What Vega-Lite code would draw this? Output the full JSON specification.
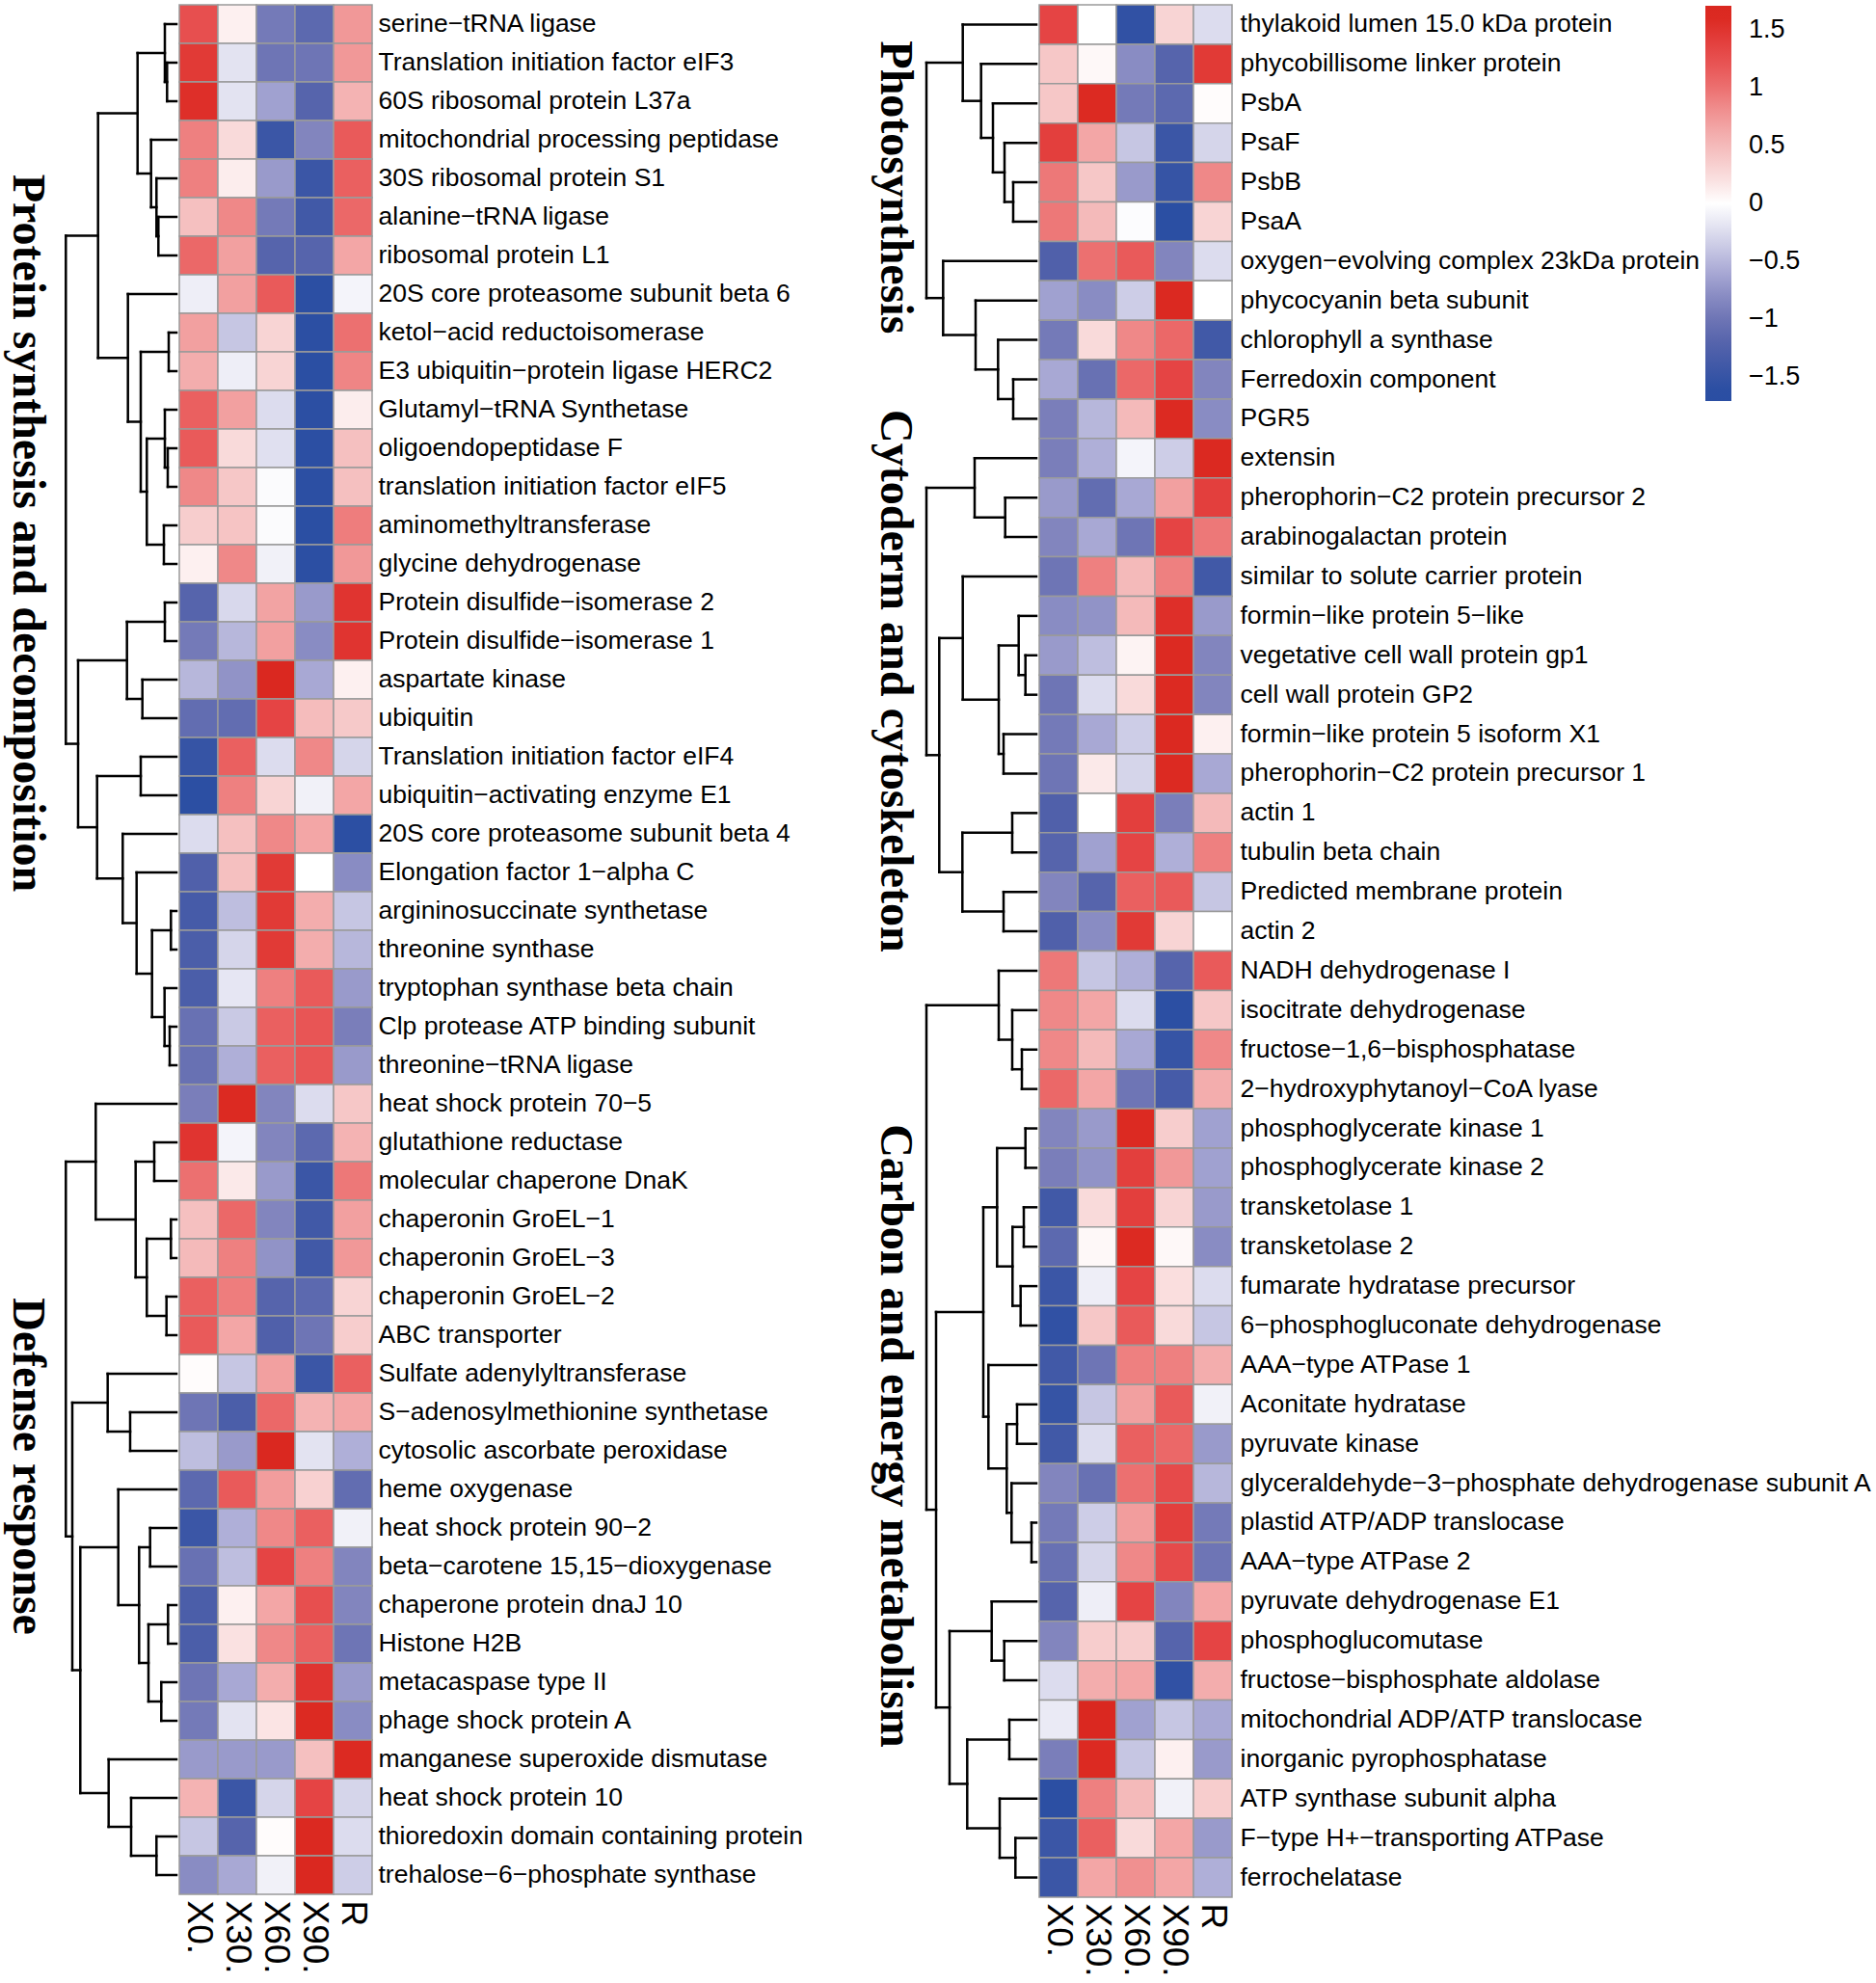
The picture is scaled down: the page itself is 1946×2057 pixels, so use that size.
{
"padding": {"left": 0, "top": 4, "right": 0, "bottom": 0},
"background": "white",
"spacing": 0,
"config": {
  "font": "Liberation Sans",
  "view": {"stroke": null},
  "axis": {"grid": false, "ticks": false, "domain": false, "labelColor": "#000000", "labelFont": "Liberation Sans", "title": null, "labelOverlap": false},
  "concat": {"spacing": 0}
},
"resolve": {"scale": {"color": "independent"}},
"datasets": {
"Lg": [
{"r":1,"g":"serine−tRNA ligase"},{"r":2,"g":"Translation initiation factor eIF3"},{"r":3,"g":"60S ribosomal protein L37a"},{"r":4,"g":"mitochondrial processing peptidase"},{"r":5,"g":"30S ribosomal protein S1"},{"r":6,"g":"alanine−tRNA ligase"},{"r":7,"g":"ribosomal protein L1"},{"r":8,"g":"20S core proteasome subunit beta 6"},{"r":9,"g":"ketol−acid reductoisomerase"},{"r":10,"g":"E3 ubiquitin−protein ligase HERC2"},{"r":11,"g":"Glutamyl−tRNA Synthetase"},{"r":12,"g":"oligoendopeptidase F"},{"r":13,"g":"translation initiation factor eIF5"},{"r":14,"g":"aminomethyltransferase"},{"r":15,"g":"glycine dehydrogenase"},{"r":16,"g":"Protein disulfide−isomerase 2"},{"r":17,"g":"Protein disulfide−isomerase 1"},{"r":18,"g":"aspartate kinase"},{"r":19,"g":"ubiquitin"},{"r":20,"g":"Translation initiation factor eIF4"},{"r":21,"g":"ubiquitin−activating enzyme E1"},{"r":22,"g":"20S core proteasome subunit beta 4"},{"r":23,"g":"Elongation factor 1−alpha C"},{"r":24,"g":"argininosuccinate synthetase"},{"r":25,"g":"threonine synthase"},{"r":26,"g":"tryptophan synthase beta chain"},{"r":27,"g":"Clp protease ATP binding subunit"},{"r":28,"g":"threonine−tRNA ligase"},{"r":29,"g":"heat shock protein 70−5"},{"r":30,"g":"glutathione reductase"},{"r":31,"g":"molecular chaperone DnaK"},{"r":32,"g":"chaperonin GroEL−1"},{"r":33,"g":"chaperonin GroEL−3"},{"r":34,"g":"chaperonin GroEL−2"},{"r":35,"g":"ABC transporter"},{"r":36,"g":"Sulfate adenylyltransferase"},{"r":37,"g":"S−adenosylmethionine synthetase"},{"r":38,"g":"cytosolic ascorbate peroxidase"},{"r":39,"g":"heme oxygenase"},{"r":40,"g":"heat shock protein 90−2"},{"r":41,"g":"beta−carotene 15,15−dioxygenase"},{"r":42,"g":"chaperone protein dnaJ 10"},{"r":43,"g":"Histone H2B"},{"r":44,"g":"metacaspase type II"},{"r":45,"g":"phage shock protein A"},{"r":46,"g":"manganese superoxide dismutase"},{"r":47,"g":"heat shock protein 10"},{"r":48,"g":"thioredoxin domain containing protein"},{"r":49,"g":"trehalose−6−phosphate synthase"}
],
"Rg": [
{"r":1,"g":"thylakoid lumen 15.0 kDa protein"},{"r":2,"g":"phycobillisome linker protein"},{"r":3,"g":"PsbA"},{"r":4,"g":"PsaF"},{"r":5,"g":"PsbB"},{"r":6,"g":"PsaA"},{"r":7,"g":"oxygen−evolving complex 23kDa protein"},{"r":8,"g":"phycocyanin beta subunit"},{"r":9,"g":"chlorophyll a synthase"},{"r":10,"g":"Ferredoxin component"},{"r":11,"g":"PGR5"},{"r":12,"g":"extensin"},{"r":13,"g":"pherophorin−C2 protein precursor 2"},{"r":14,"g":"arabinogalactan protein"},{"r":15,"g":"similar to solute carrier protein"},{"r":16,"g":"formin−like protein 5−like"},{"r":17,"g":"vegetative cell wall protein gp1"},{"r":18,"g":"cell wall protein GP2"},{"r":19,"g":"formin−like protein 5 isoform X1"},{"r":20,"g":"pherophorin−C2 protein precursor 1"},{"r":21,"g":"actin 1"},{"r":22,"g":"tubulin beta chain"},{"r":23,"g":"Predicted membrane protein"},{"r":24,"g":"actin 2"},{"r":25,"g":"NADH dehydrogenase I"},{"r":26,"g":"isocitrate dehydrogenase"},{"r":27,"g":"fructose−1,6−bisphosphatase"},{"r":28,"g":"2−hydroxyphytanoyl−CoA lyase"},{"r":29,"g":"phosphoglycerate kinase 1"},{"r":30,"g":"phosphoglycerate kinase 2"},{"r":31,"g":"transketolase 1"},{"r":32,"g":"transketolase 2"},{"r":33,"g":"fumarate hydratase precursor"},{"r":34,"g":"6−phosphogluconate dehydrogenase"},{"r":35,"g":"AAA−type ATPase 1"},{"r":36,"g":"Aconitate hydratase"},{"r":37,"g":"pyruvate kinase"},{"r":38,"g":"glyceraldehyde−3−phosphate dehydrogenase subunit A"},{"r":39,"g":"plastid ATP/ADP translocase"},{"r":40,"g":"AAA−type ATPase 2"},{"r":41,"g":"pyruvate dehydrogenase E1"},{"r":42,"g":"phosphoglucomutase"},{"r":43,"g":"fructose−bisphosphate aldolase"},{"r":44,"g":"mitochondrial ADP/ATP translocase"},{"r":45,"g":"inorganic pyrophosphatase"},{"r":46,"g":"ATP synthase subunit alpha"},{"r":47,"g":"F−type H+−transporting ATPase"},{"r":48,"g":"ferrochelatase"}
],
"Lc": [
{"r":1,"c":"X0.","z":1.25},{"r":1,"c":"X30.","z":0.1},{"r":1,"c":"X60.","z":-0.95},{"r":1,"c":"X90.","z":-1.15},{"r":1,"c":"R","z":0.75},
{"r":2,"c":"X0.","z":1.45},{"r":2,"c":"X30.","z":-0.2},{"r":2,"c":"X60.","z":-1.0},{"r":2,"c":"X90.","z":-1.0},{"r":2,"c":"R","z":0.75},
{"r":3,"c":"X0.","z":1.55},{"r":3,"c":"X30.","z":-0.2},{"r":3,"c":"X60.","z":-0.65},{"r":3,"c":"X90.","z":-1.2},{"r":3,"c":"R","z":0.55},
{"r":4,"c":"X0.","z":0.9},{"r":4,"c":"X30.","z":0.25},{"r":4,"c":"X60.","z":-1.45},{"r":4,"c":"X90.","z":-0.85},{"r":4,"c":"R","z":1.15},
{"r":5,"c":"X0.","z":0.9},{"r":5,"c":"X30.","z":0.12},{"r":5,"c":"X60.","z":-0.7},{"r":5,"c":"X90.","z":-1.45},{"r":5,"c":"R","z":1.1},
{"r":6,"c":"X0.","z":0.45},{"r":6,"c":"X30.","z":0.85},{"r":6,"c":"X60.","z":-0.95},{"r":6,"c":"X90.","z":-1.4},{"r":6,"c":"R","z":1.05},
{"r":7,"c":"X0.","z":1.05},{"r":7,"c":"X30.","z":0.7},{"r":7,"c":"X60.","z":-1.2},{"r":7,"c":"X90.","z":-1.2},{"r":7,"c":"R","z":0.65},
{"r":8,"c":"X0.","z":-0.12},{"r":8,"c":"X30.","z":0.7},{"r":8,"c":"X60.","z":1.15},{"r":8,"c":"X90.","z":-1.6},{"r":8,"c":"R","z":-0.08},
{"r":9,"c":"X0.","z":0.7},{"r":9,"c":"X30.","z":-0.4},{"r":9,"c":"X60.","z":0.3},{"r":9,"c":"X90.","z":-1.6},{"r":9,"c":"R","z":1.0},
{"r":10,"c":"X0.","z":0.6},{"r":10,"c":"X30.","z":-0.12},{"r":10,"c":"X60.","z":0.3},{"r":10,"c":"X90.","z":-1.65},{"r":10,"c":"R","z":0.87},
{"r":11,"c":"X0.","z":1.1},{"r":11,"c":"X30.","z":0.7},{"r":11,"c":"X60.","z":-0.25},{"r":11,"c":"X90.","z":-1.6},{"r":11,"c":"R","z":0.12},
{"r":12,"c":"X0.","z":1.15},{"r":12,"c":"X30.","z":0.25},{"r":12,"c":"X60.","z":-0.22},{"r":12,"c":"X90.","z":-1.6},{"r":12,"c":"R","z":0.45},
{"r":13,"c":"X0.","z":0.85},{"r":13,"c":"X30.","z":0.4},{"r":13,"c":"X60.","z":-0.03},{"r":13,"c":"X90.","z":-1.62},{"r":13,"c":"R","z":0.45},
{"r":14,"c":"X0.","z":0.35},{"r":14,"c":"X30.","z":0.42},{"r":14,"c":"X60.","z":-0.03},{"r":14,"c":"X90.","z":-1.65},{"r":14,"c":"R","z":0.92},
{"r":15,"c":"X0.","z":0.1},{"r":15,"c":"X30.","z":0.85},{"r":15,"c":"X60.","z":-0.1},{"r":15,"c":"X90.","z":-1.6},{"r":15,"c":"R","z":0.75},
{"r":16,"c":"X0.","z":-1.2},{"r":16,"c":"X30.","z":-0.28},{"r":16,"c":"X60.","z":0.68},{"r":16,"c":"X90.","z":-0.7},{"r":16,"c":"R","z":1.5},
{"r":17,"c":"X0.","z":-0.95},{"r":17,"c":"X30.","z":-0.5},{"r":17,"c":"X60.","z":0.7},{"r":17,"c":"X90.","z":-0.8},{"r":17,"c":"R","z":1.5},
{"r":18,"c":"X0.","z":-0.5},{"r":18,"c":"X30.","z":-0.75},{"r":18,"c":"X60.","z":1.7},{"r":18,"c":"X90.","z":-0.6},{"r":18,"c":"R","z":0.1},
{"r":19,"c":"X0.","z":-1.1},{"r":19,"c":"X30.","z":-1.1},{"r":19,"c":"X60.","z":1.35},{"r":19,"c":"X90.","z":0.48},{"r":19,"c":"R","z":0.38},
{"r":20,"c":"X0.","z":-1.5},{"r":20,"c":"X30.","z":1.1},{"r":20,"c":"X60.","z":-0.25},{"r":20,"c":"X90.","z":0.85},{"r":20,"c":"R","z":-0.3},
{"r":21,"c":"X0.","z":-1.6},{"r":21,"c":"X30.","z":0.9},{"r":21,"c":"X60.","z":0.3},{"r":21,"c":"X90.","z":-0.1},{"r":21,"c":"R","z":0.65},
{"r":22,"c":"X0.","z":-0.25},{"r":22,"c":"X30.","z":0.45},{"r":22,"c":"X60.","z":0.85},{"r":22,"c":"X90.","z":0.65},{"r":22,"c":"R","z":-1.6},
{"r":23,"c":"X0.","z":-1.25},{"r":23,"c":"X30.","z":0.45},{"r":23,"c":"X60.","z":1.45},{"r":23,"c":"X90.","z":0.0},{"r":23,"c":"R","z":-0.8},
{"r":24,"c":"X0.","z":-1.35},{"r":24,"c":"X30.","z":-0.45},{"r":24,"c":"X60.","z":1.45},{"r":24,"c":"X90.","z":0.6},{"r":24,"c":"R","z":-0.4},
{"r":25,"c":"X0.","z":-1.3},{"r":25,"c":"X30.","z":-0.3},{"r":25,"c":"X60.","z":1.45},{"r":25,"c":"X90.","z":0.6},{"r":25,"c":"R","z":-0.5},
{"r":26,"c":"X0.","z":-1.3},{"r":26,"c":"X30.","z":-0.18},{"r":26,"c":"X60.","z":0.9},{"r":26,"c":"X90.","z":1.15},{"r":26,"c":"R","z":-0.7},
{"r":27,"c":"X0.","z":-1.05},{"r":27,"c":"X30.","z":-0.38},{"r":27,"c":"X60.","z":1.1},{"r":27,"c":"X90.","z":1.2},{"r":27,"c":"R","z":-0.9},
{"r":28,"c":"X0.","z":-1.05},{"r":28,"c":"X30.","z":-0.55},{"r":28,"c":"X60.","z":1.1},{"r":28,"c":"X90.","z":1.2},{"r":28,"c":"R","z":-0.7},
{"r":29,"c":"X0.","z":-0.9},{"r":29,"c":"X30.","z":1.6},{"r":29,"c":"X60.","z":-0.85},{"r":29,"c":"X90.","z":-0.25},{"r":29,"c":"R","z":0.4},
{"r":30,"c":"X0.","z":1.5},{"r":30,"c":"X30.","z":-0.08},{"r":30,"c":"X60.","z":-0.85},{"r":30,"c":"X90.","z":-1.15},{"r":30,"c":"R","z":0.55},
{"r":31,"c":"X0.","z":1.0},{"r":31,"c":"X30.","z":0.15},{"r":31,"c":"X60.","z":-0.7},{"r":31,"c":"X90.","z":-1.45},{"r":31,"c":"R","z":0.95},
{"r":32,"c":"X0.","z":0.45},{"r":32,"c":"X30.","z":1.05},{"r":32,"c":"X60.","z":-0.85},{"r":32,"c":"X90.","z":-1.4},{"r":32,"c":"R","z":0.7},
{"r":33,"c":"X0.","z":0.5},{"r":33,"c":"X30.","z":0.9},{"r":33,"c":"X60.","z":-0.75},{"r":33,"c":"X90.","z":-1.4},{"r":33,"c":"R","z":0.75},
{"r":34,"c":"X0.","z":1.1},{"r":34,"c":"X30.","z":0.92},{"r":34,"c":"X60.","z":-1.2},{"r":34,"c":"X90.","z":-1.15},{"r":34,"c":"R","z":0.3},
{"r":35,"c":"X0.","z":1.15},{"r":35,"c":"X30.","z":0.65},{"r":35,"c":"X60.","z":-1.25},{"r":35,"c":"X90.","z":-1.0},{"r":35,"c":"R","z":0.35},
{"r":36,"c":"X0.","z":0.02},{"r":36,"c":"X30.","z":-0.4},{"r":36,"c":"X60.","z":0.7},{"r":36,"c":"X90.","z":-1.45},{"r":36,"c":"R","z":1.1},
{"r":37,"c":"X0.","z":-1.0},{"r":37,"c":"X30.","z":-1.3},{"r":37,"c":"X60.","z":1.05},{"r":37,"c":"X90.","z":0.55},{"r":37,"c":"R","z":0.65},
{"r":38,"c":"X0.","z":-0.45},{"r":38,"c":"X30.","z":-0.7},{"r":38,"c":"X60.","z":1.7},{"r":38,"c":"X90.","z":-0.2},{"r":38,"c":"R","z":-0.55},
{"r":39,"c":"X0.","z":-1.15},{"r":39,"c":"X30.","z":1.15},{"r":39,"c":"X60.","z":0.72},{"r":39,"c":"X90.","z":0.32},{"r":39,"c":"R","z":-1.1},
{"r":40,"c":"X0.","z":-1.45},{"r":40,"c":"X30.","z":-0.55},{"r":40,"c":"X60.","z":0.85},{"r":40,"c":"X90.","z":1.1},{"r":40,"c":"R","z":-0.1},
{"r":41,"c":"X0.","z":-1.05},{"r":41,"c":"X30.","z":-0.45},{"r":41,"c":"X60.","z":1.35},{"r":41,"c":"X90.","z":0.9},{"r":41,"c":"R","z":-0.85},
{"r":42,"c":"X0.","z":-1.3},{"r":42,"c":"X30.","z":0.1},{"r":42,"c":"X60.","z":0.65},{"r":42,"c":"X90.","z":1.25},{"r":42,"c":"R","z":-0.85},
{"r":43,"c":"X0.","z":-1.3},{"r":43,"c":"X30.","z":0.2},{"r":43,"c":"X60.","z":0.85},{"r":43,"c":"X90.","z":1.1},{"r":43,"c":"R","z":-1.0},
{"r":44,"c":"X0.","z":-1.0},{"r":44,"c":"X30.","z":-0.6},{"r":44,"c":"X60.","z":0.6},{"r":44,"c":"X90.","z":1.5},{"r":44,"c":"R","z":-0.7},
{"r":45,"c":"X0.","z":-0.95},{"r":45,"c":"X30.","z":-0.2},{"r":45,"c":"X60.","z":0.18},{"r":45,"c":"X90.","z":1.6},{"r":45,"c":"R","z":-0.8},
{"r":46,"c":"X0.","z":-0.7},{"r":46,"c":"X30.","z":-0.7},{"r":46,"c":"X60.","z":-0.7},{"r":46,"c":"X90.","z":0.45},{"r":46,"c":"R","z":1.6},
{"r":47,"c":"X0.","z":0.55},{"r":47,"c":"X30.","z":-1.45},{"r":47,"c":"X60.","z":-0.3},{"r":47,"c":"X90.","z":1.35},{"r":47,"c":"R","z":-0.3},
{"r":48,"c":"X0.","z":-0.4},{"r":48,"c":"X30.","z":-1.2},{"r":48,"c":"X60.","z":0.02},{"r":48,"c":"X90.","z":1.65},{"r":48,"c":"R","z":-0.25},
{"r":49,"c":"X0.","z":-0.8},{"r":49,"c":"X30.","z":-0.6},{"r":49,"c":"X60.","z":-0.1},{"r":49,"c":"X90.","z":1.7},{"r":49,"c":"R","z":-0.35}
],
"Rc": [
{"r":1,"c":"X0.","z":1.35},{"r":1,"c":"X30.","z":0.0},{"r":1,"c":"X60.","z":-1.55},{"r":1,"c":"X90.","z":0.3},{"r":1,"c":"R","z":-0.25},
{"r":2,"c":"X0.","z":0.4},{"r":2,"c":"X30.","z":0.05},{"r":2,"c":"X60.","z":-0.8},{"r":2,"c":"X90.","z":-1.2},{"r":2,"c":"R","z":1.45},
{"r":3,"c":"X0.","z":0.4},{"r":3,"c":"X30.","z":1.6},{"r":3,"c":"X60.","z":-0.95},{"r":3,"c":"X90.","z":-1.15},{"r":3,"c":"R","z":0.02},
{"r":4,"c":"X0.","z":1.4},{"r":4,"c":"X30.","z":0.65},{"r":4,"c":"X60.","z":-0.4},{"r":4,"c":"X90.","z":-1.45},{"r":4,"c":"R","z":-0.3},
{"r":5,"c":"X0.","z":0.95},{"r":5,"c":"X30.","z":0.4},{"r":5,"c":"X60.","z":-0.7},{"r":5,"c":"X90.","z":-1.5},{"r":5,"c":"R","z":0.85},
{"r":6,"c":"X0.","z":0.95},{"r":6,"c":"X30.","z":0.5},{"r":6,"c":"X60.","z":-0.02},{"r":6,"c":"X90.","z":-1.65},{"r":6,"c":"R","z":0.3},
{"r":7,"c":"X0.","z":-1.25},{"r":7,"c":"X30.","z":1.0},{"r":7,"c":"X60.","z":1.15},{"r":7,"c":"X90.","z":-0.85},{"r":7,"c":"R","z":-0.25},
{"r":8,"c":"X0.","z":-0.65},{"r":8,"c":"X30.","z":-0.8},{"r":8,"c":"X60.","z":-0.35},{"r":8,"c":"X90.","z":1.65},{"r":8,"c":"R","z":0.0},
{"r":9,"c":"X0.","z":-0.95},{"r":9,"c":"X30.","z":0.25},{"r":9,"c":"X60.","z":0.85},{"r":9,"c":"X90.","z":1.05},{"r":9,"c":"R","z":-1.4},
{"r":10,"c":"X0.","z":-0.6},{"r":10,"c":"X30.","z":-1.05},{"r":10,"c":"X60.","z":1.05},{"r":10,"c":"X90.","z":1.35},{"r":10,"c":"R","z":-0.85},
{"r":11,"c":"X0.","z":-0.9},{"r":11,"c":"X30.","z":-0.5},{"r":11,"c":"X60.","z":0.5},{"r":11,"c":"X90.","z":1.6},{"r":11,"c":"R","z":-0.8},
{"r":12,"c":"X0.","z":-0.9},{"r":12,"c":"X30.","z":-0.55},{"r":12,"c":"X60.","z":-0.08},{"r":12,"c":"X90.","z":-0.35},{"r":12,"c":"R","z":1.65},
{"r":13,"c":"X0.","z":-0.7},{"r":13,"c":"X30.","z":-1.1},{"r":13,"c":"X60.","z":-0.6},{"r":13,"c":"X90.","z":0.7},{"r":13,"c":"R","z":1.4},
{"r":14,"c":"X0.","z":-0.85},{"r":14,"c":"X30.","z":-0.6},{"r":14,"c":"X60.","z":-1.0},{"r":14,"c":"X90.","z":1.35},{"r":14,"c":"R","z":0.95},
{"r":15,"c":"X0.","z":-1.0},{"r":15,"c":"X30.","z":0.9},{"r":15,"c":"X60.","z":0.5},{"r":15,"c":"X90.","z":0.9},{"r":15,"c":"R","z":-1.4},
{"r":16,"c":"X0.","z":-0.8},{"r":16,"c":"X30.","z":-0.75},{"r":16,"c":"X60.","z":0.5},{"r":16,"c":"X90.","z":1.55},{"r":16,"c":"R","z":-0.7},
{"r":17,"c":"X0.","z":-0.7},{"r":17,"c":"X30.","z":-0.45},{"r":17,"c":"X60.","z":0.08},{"r":17,"c":"X90.","z":1.6},{"r":17,"c":"R","z":-0.85},
{"r":18,"c":"X0.","z":-1.0},{"r":18,"c":"X30.","z":-0.25},{"r":18,"c":"X60.","z":0.25},{"r":18,"c":"X90.","z":1.6},{"r":18,"c":"R","z":-0.85},
{"r":19,"c":"X0.","z":-0.95},{"r":19,"c":"X30.","z":-0.6},{"r":19,"c":"X60.","z":-0.35},{"r":19,"c":"X90.","z":1.65},{"r":19,"c":"R","z":0.1},
{"r":20,"c":"X0.","z":-1.0},{"r":20,"c":"X30.","z":0.15},{"r":20,"c":"X60.","z":-0.3},{"r":20,"c":"X90.","z":1.6},{"r":20,"c":"R","z":-0.6},
{"r":21,"c":"X0.","z":-1.25},{"r":21,"c":"X30.","z":0.0},{"r":21,"c":"X60.","z":1.4},{"r":21,"c":"X90.","z":-0.9},{"r":21,"c":"R","z":0.5},
{"r":22,"c":"X0.","z":-1.2},{"r":22,"c":"X30.","z":-0.65},{"r":22,"c":"X60.","z":1.35},{"r":22,"c":"X90.","z":-0.55},{"r":22,"c":"R","z":0.9},
{"r":23,"c":"X0.","z":-0.85},{"r":23,"c":"X30.","z":-1.2},{"r":23,"c":"X60.","z":1.1},{"r":23,"c":"X90.","z":1.15},{"r":23,"c":"R","z":-0.4},
{"r":24,"c":"X0.","z":-1.25},{"r":24,"c":"X30.","z":-0.8},{"r":24,"c":"X60.","z":1.45},{"r":24,"c":"X90.","z":0.3},{"r":24,"c":"R","z":0.0},
{"r":25,"c":"X0.","z":0.95},{"r":25,"c":"X30.","z":-0.4},{"r":25,"c":"X60.","z":-0.55},{"r":25,"c":"X90.","z":-1.2},{"r":25,"c":"R","z":1.15},
{"r":26,"c":"X0.","z":0.85},{"r":26,"c":"X30.","z":0.65},{"r":26,"c":"X60.","z":-0.25},{"r":26,"c":"X90.","z":-1.6},{"r":26,"c":"R","z":0.4},
{"r":27,"c":"X0.","z":0.85},{"r":27,"c":"X30.","z":0.5},{"r":27,"c":"X60.","z":-0.6},{"r":27,"c":"X90.","z":-1.5},{"r":27,"c":"R","z":0.85},
{"r":28,"c":"X0.","z":1.05},{"r":28,"c":"X30.","z":0.65},{"r":28,"c":"X60.","z":-1.0},{"r":28,"c":"X90.","z":-1.35},{"r":28,"c":"R","z":0.6},
{"r":29,"c":"X0.","z":-0.85},{"r":29,"c":"X30.","z":-0.7},{"r":29,"c":"X60.","z":1.6},{"r":29,"c":"X90.","z":0.35},{"r":29,"c":"R","z":-0.65},
{"r":30,"c":"X0.","z":-0.9},{"r":30,"c":"X30.","z":-0.75},{"r":30,"c":"X60.","z":1.4},{"r":30,"c":"X90.","z":0.75},{"r":30,"c":"R","z":-0.65},
{"r":31,"c":"X0.","z":-1.4},{"r":31,"c":"X30.","z":0.25},{"r":31,"c":"X60.","z":1.4},{"r":31,"c":"X90.","z":0.3},{"r":31,"c":"R","z":-0.7},
{"r":32,"c":"X0.","z":-1.15},{"r":32,"c":"X30.","z":0.05},{"r":32,"c":"X60.","z":1.6},{"r":32,"c":"X90.","z":0.05},{"r":32,"c":"R","z":-0.8},
{"r":33,"c":"X0.","z":-1.45},{"r":33,"c":"X30.","z":-0.12},{"r":33,"c":"X60.","z":1.35},{"r":33,"c":"X90.","z":0.22},{"r":33,"c":"R","z":-0.25},
{"r":34,"c":"X0.","z":-1.55},{"r":34,"c":"X30.","z":0.4},{"r":34,"c":"X60.","z":1.15},{"r":34,"c":"X90.","z":0.25},{"r":34,"c":"R","z":-0.4},
{"r":35,"c":"X0.","z":-1.4},{"r":35,"c":"X30.","z":-1.0},{"r":35,"c":"X60.","z":0.9},{"r":35,"c":"X90.","z":0.9},{"r":35,"c":"R","z":0.6},
{"r":36,"c":"X0.","z":-1.5},{"r":36,"c":"X30.","z":-0.4},{"r":36,"c":"X60.","z":0.7},{"r":36,"c":"X90.","z":1.15},{"r":36,"c":"R","z":-0.1},
{"r":37,"c":"X0.","z":-1.4},{"r":37,"c":"X30.","z":-0.25},{"r":37,"c":"X60.","z":1.1},{"r":37,"c":"X90.","z":1.05},{"r":37,"c":"R","z":-0.7},
{"r":38,"c":"X0.","z":-0.85},{"r":38,"c":"X30.","z":-1.05},{"r":38,"c":"X60.","z":1.0},{"r":38,"c":"X90.","z":1.3},{"r":38,"c":"R","z":-0.5},
{"r":39,"c":"X0.","z":-0.95},{"r":39,"c":"X30.","z":-0.35},{"r":39,"c":"X60.","z":0.72},{"r":39,"c":"X90.","z":1.4},{"r":39,"c":"R","z":-0.95},
{"r":40,"c":"X0.","z":-1.05},{"r":40,"c":"X30.","z":-0.3},{"r":40,"c":"X60.","z":0.85},{"r":40,"c":"X90.","z":1.3},{"r":40,"c":"R","z":-1.0},
{"r":41,"c":"X0.","z":-1.2},{"r":41,"c":"X30.","z":-0.12},{"r":41,"c":"X60.","z":1.35},{"r":41,"c":"X90.","z":-0.85},{"r":41,"c":"R","z":0.65},
{"r":42,"c":"X0.","z":-0.85},{"r":42,"c":"X30.","z":0.35},{"r":42,"c":"X60.","z":0.35},{"r":42,"c":"X90.","z":-1.2},{"r":42,"c":"R","z":1.35},
{"r":43,"c":"X0.","z":-0.25},{"r":43,"c":"X30.","z":0.6},{"r":43,"c":"X60.","z":0.65},{"r":43,"c":"X90.","z":-1.55},{"r":43,"c":"R","z":0.6},
{"r":44,"c":"X0.","z":-0.15},{"r":44,"c":"X30.","z":1.7},{"r":44,"c":"X60.","z":-0.65},{"r":44,"c":"X90.","z":-0.4},{"r":44,"c":"R","z":-0.6},
{"r":45,"c":"X0.","z":-0.9},{"r":45,"c":"X30.","z":1.6},{"r":45,"c":"X60.","z":-0.4},{"r":45,"c":"X90.","z":0.1},{"r":45,"c":"R","z":-0.7},
{"r":46,"c":"X0.","z":-1.6},{"r":46,"c":"X30.","z":0.9},{"r":46,"c":"X60.","z":0.5},{"r":46,"c":"X90.","z":-0.1},{"r":46,"c":"R","z":0.35},
{"r":47,"c":"X0.","z":-1.45},{"r":47,"c":"X30.","z":1.1},{"r":47,"c":"X60.","z":0.25},{"r":47,"c":"X90.","z":0.65},{"r":47,"c":"R","z":-0.7},
{"r":48,"c":"X0.","z":-1.45},{"r":48,"c":"X30.","z":0.65},{"r":48,"c":"X60.","z":0.8},{"r":48,"c":"X90.","z":0.65},{"r":48,"c":"R","z":-0.55}
],
"LN": [
{"h":9.7,"ya":2,"yb":3,"ha":0,"hb":0},{"h":12,"ya":1,"yb":2.5,"ha":0,"hb":9.7},{"h":18.7,"ya":6,"yb":7,"ha":0,"hb":0},{"h":20.7,"ya":5,"yb":6.5,"ha":0,"hb":18.7},{"h":26.3,"ya":4,"yb":5.75,"ha":0,"hb":20.7},{"h":40.3,"ya":1.75,"yb":4.875,"ha":12,"hb":26.3},
{"h":8,"ya":9,"yb":10,"ha":0,"hb":0},{"h":9,"ya":12,"yb":13,"ha":0,"hb":0},{"h":12,"ya":11,"yb":12.5,"ha":0,"hb":9},{"h":13,"ya":14,"yb":15,"ha":0,"hb":0},{"h":30.7,"ya":11.75,"yb":14.5,"ha":12,"hb":13},{"h":37,"ya":9.5,"yb":13.125,"ha":8,"hb":30.7},{"h":50.3,"ya":8,"yb":11.3125,"ha":0,"hb":37},{"h":81.3,"ya":3.3125,"yb":9.65625,"ha":40.3,"hb":50.3},
{"h":12,"ya":16,"yb":17,"ha":0,"hb":0},{"h":35.3,"ya":18,"yb":19,"ha":0,"hb":0},{"h":51.3,"ya":16.5,"yb":18.5,"ha":12,"hb":35.3},{"h":37,"ya":20,"yb":21,"ha":0,"hb":0},{"h":5.7,"ya":24,"yb":25,"ha":0,"hb":0},{"h":7,"ya":27,"yb":28,"ha":0,"hb":0},{"h":12.3,"ya":26,"yb":27.5,"ha":0,"hb":7},{"h":25.3,"ya":24.5,"yb":26.75,"ha":5.7,"hb":12.3},{"h":41.3,"ya":23,"yb":25.625,"ha":0,"hb":25.3},{"h":55.7,"ya":22,"yb":24.3125,"ha":0,"hb":41.3},{"h":82.3,"ya":20.5,"yb":23.15625,"ha":37,"hb":55.7},{"h":102,"ya":17.5,"yb":21.828125,"ha":51.3,"hb":82.3},{"h":114.7,"ya":6.484375,"yb":19.6640625,"ha":81.3,"hb":102},
{"h":23,"ya":30,"yb":31,"ha":0,"hb":0},{"h":5.7,"ya":32,"yb":33,"ha":0,"hb":0},{"h":10.3,"ya":34,"yb":35,"ha":0,"hb":0},{"h":30.7,"ya":32.5,"yb":34.5,"ha":5.7,"hb":10.3},{"h":42.3,"ya":30.5,"yb":33.5,"ha":23,"hb":30.7},{"h":83.7,"ya":29,"yb":32,"ha":0,"hb":42.3},
{"h":48,"ya":37,"yb":38,"ha":0,"hb":0},{"h":71.3,"ya":36,"yb":37.5,"ha":0,"hb":48},{"h":27.3,"ya":40,"yb":41,"ha":0,"hb":0},{"h":8.7,"ya":42,"yb":43,"ha":0,"hb":0},{"h":15.7,"ya":44,"yb":45,"ha":0,"hb":0},{"h":29,"ya":42.5,"yb":44.5,"ha":8.7,"hb":15.7},{"h":38.7,"ya":40.5,"yb":43.5,"ha":27.3,"hb":29},{"h":60.3,"ya":39,"yb":42,"ha":0,"hb":38.7},{"h":20.7,"ya":48,"yb":49,"ha":0,"hb":0},{"h":47,"ya":47,"yb":48.5,"ha":0,"hb":20.7},{"h":70.3,"ya":46,"yb":47.75,"ha":0,"hb":47},{"h":99.7,"ya":40.5,"yb":46.875,"ha":60.3,"hb":70.3},{"h":108,"ya":36.75,"yb":43.6875,"ha":71.3,"hb":99.7},{"h":114.7,"ya":30.5,"yb":40.21875,"ha":83.7,"hb":108}
],
"RN": [
{"h":24,"ya":5,"yb":6,"ha":0,"hb":0},{"h":33,"ya":4,"yb":5.5,"ha":0,"hb":24},{"h":45,"ya":3,"yb":4.75,"ha":0,"hb":33},{"h":57.3,"ya":2,"yb":3.875,"ha":0,"hb":45},{"h":76.3,"ya":1,"yb":2.9375,"ha":0,"hb":57.3},{"h":24,"ya":10,"yb":11,"ha":0,"hb":0},{"h":39.7,"ya":9,"yb":10.5,"ha":0,"hb":24},{"h":63,"ya":8,"yb":9.75,"ha":0,"hb":39.7},{"h":96.7,"ya":7,"yb":8.875,"ha":0,"hb":63},{"h":114,"ya":1.96875,"yb":7.9375,"ha":76.3,"hb":96.7},
{"h":32.3,"ya":13,"yb":14,"ha":0,"hb":0},{"h":64,"ya":12,"yb":13.5,"ha":0,"hb":32.3},{"h":11.3,"ya":17,"yb":18,"ha":0,"hb":0},{"h":18.3,"ya":16,"yb":17.5,"ha":0,"hb":11.3},{"h":34,"ya":19,"yb":20,"ha":0,"hb":0},{"h":39,"ya":16.75,"yb":19.5,"ha":18.3,"hb":34},{"h":76.3,"ya":15,"yb":18.125,"ha":0,"hb":39},{"h":25,"ya":21,"yb":22,"ha":0,"hb":0},{"h":34,"ya":23,"yb":24,"ha":0,"hb":0},{"h":76.7,"ya":21.5,"yb":23.5,"ha":25,"hb":34},{"h":100.7,"ya":16.5625,"yb":22.5,"ha":76.3,"hb":76.7},{"h":114,"ya":12.75,"yb":19.53125,"ha":64,"hb":100.7},
{"h":15,"ya":27,"yb":28,"ha":0,"hb":0},{"h":25,"ya":26,"yb":27.5,"ha":0,"hb":15},{"h":39,"ya":25,"yb":26.75,"ha":0,"hb":25},{"h":11.3,"ya":29,"yb":30,"ha":0,"hb":0},{"h":13,"ya":31,"yb":32,"ha":0,"hb":0},{"h":16.3,"ya":33,"yb":34,"ha":0,"hb":0},{"h":24.7,"ya":31.5,"yb":33.5,"ha":13,"hb":16.3},{"h":40.7,"ya":29.5,"yb":32.5,"ha":11.3,"hb":24.7},{"h":20,"ya":36,"yb":37,"ha":0,"hb":0},{"h":5,"ya":39,"yb":40,"ha":0,"hb":0},{"h":25.7,"ya":38,"yb":39.5,"ha":0,"hb":5},{"h":30.7,"ya":36.5,"yb":38.75,"ha":20,"hb":25.7},{"h":49.7,"ya":35,"yb":37.625,"ha":0,"hb":30.7},{"h":55,"ya":31,"yb":36.3125,"ha":40.7,"hb":49.7},{"h":33.3,"ya":42,"yb":43,"ha":0,"hb":0},{"h":46.3,"ya":41,"yb":42.5,"ha":0,"hb":33.3},{"h":28,"ya":44,"yb":45,"ha":0,"hb":0},{"h":21.7,"ya":47,"yb":48,"ha":0,"hb":0},{"h":38,"ya":46,"yb":47.5,"ha":0,"hb":21.7},{"h":71.7,"ya":44.5,"yb":46.75,"ha":28,"hb":38},{"h":90,"ya":41.75,"yb":45.625,"ha":46.3,"hb":71.7},{"h":104,"ya":33.65625,"yb":43.6875,"ha":55,"hb":90},{"h":114,"ya":25.875,"yb":38.671875,"ha":39,"hb":104}
],
"LT": [{"t":"Protein synthesis and decomposition","at":14.2},{"t":"Defense response","at":38.4}],
"RT": [{"t":"Photosynthesis","at":5.13},{"t":"Cytoderm and cytoskeleton","at":17.65},{"t":"Carbon and energy metabolism","at":36.8}]
},
"hconcat": [
{
  "width": 183, "height": 1960,
  "layer": [
    {"data": {"name": "LN"}, "mark": {"type": "rule", "color": "#000000", "strokeWidth": 2.5, "strokeCap": "square"},
     "encoding": {"x": {"field": "h", "type": "quantitative", "scale": {"domain": [0, 183], "reverse": true, "nice": false, "zero": false}, "axis": null},
                  "y": {"field": "ya", "type": "quantitative", "scale": {"domain": [0.5, 49.5], "reverse": true, "nice": false, "zero": false}, "axis": null},
                  "y2": {"field": "yb"}}},
    {"data": {"name": "LN"}, "mark": {"type": "rule", "color": "#000000", "strokeWidth": 2.5, "strokeCap": "square"},
     "encoding": {"x": {"field": "ha", "type": "quantitative", "axis": null}, "x2": {"field": "h"},
                  "y": {"field": "ya", "type": "quantitative", "axis": null}}},
    {"data": {"name": "LN"}, "mark": {"type": "rule", "color": "#000000", "strokeWidth": 2.5, "strokeCap": "square"},
     "encoding": {"x": {"field": "hb", "type": "quantitative", "axis": null}, "x2": {"field": "h"},
                  "y": {"field": "yb", "type": "quantitative", "axis": null}}},
    {"data": {"name": "LT"}, "mark": {"type": "text", "angle": 90, "align": "center", "baseline": "middle", "font": "Liberation Serif", "fontWeight": "bold", "fontSize": 48, "color": "#000000"},
     "encoding": {"x": {"datum": 155, "type": "quantitative"}, "y": {"field": "at", "type": "quantitative"}, "text": {"field": "t"}}}
  ]
},
{
  "width": 200, "height": 1960,
  "data": {"name": "Lc"},
  "transform": [{"lookup": "r", "from": {"data": {"name": "Lg"}, "key": "r", "fields": ["g"]}}],
  "mark": {"type": "rect", "stroke": "#9A9A9A", "strokeWidth": 1.5},
  "encoding": {
    "x": {"field": "c", "type": "nominal", "sort": ["X0.", "X30.", "X60.", "X90.", "R"], "scale": {"paddingInner": 0, "paddingOuter": 0},
          "axis": {"orient": "bottom", "labelAngle": 90, "labelFontSize": 37, "labelPadding": 6, "labelAlign": "left", "labelBaseline": "middle", "title": null}},
    "y": {"field": "g", "type": "nominal", "sort": {"field": "r", "op": "min", "order": "ascending"}, "scale": {"paddingInner": 0, "paddingOuter": 0},
          "axis": {"orient": "right", "labelFontSize": 26.5, "labelPadding": 6, "labelLimit": 3000, "title": null}},
    "color": {"field": "z", "type": "quantitative",
              "scale": {"type": "linear", "domain": [-1.71, -1.6, -1.25, -0.9, -0.6, -0.25, 0, 0.25, 0.45, 0.7, 0.9, 1.1, 1.35, 1.6, 1.71],
                        "range": ["#2A4EA3", "#2C4FA3", "#5060AA", "#7A7EBA", "#A8A8D4", "#DCDCEE", "#FFFFFF", "#F9DADA", "#F5C0C0", "#F2A0A0", "#EE8080", "#EA6060", "#E54444", "#DC2A22", "#DA2820"],
                        "interpolate": "rgb", "clamp": true},
              "legend": null}
  }
},
{
  "width": 242, "height": 1963,
  "layer": [
    {"data": {"name": "RN"}, "mark": {"type": "rule", "color": "#000000", "strokeWidth": 2.5, "strokeCap": "square"},
     "encoding": {"x": {"field": "h", "type": "quantitative", "scale": {"domain": [0, 242], "reverse": true, "nice": false, "zero": false}, "axis": null},
                  "y": {"field": "ya", "type": "quantitative", "scale": {"domain": [0.5, 48.5], "reverse": true, "nice": false, "zero": false}, "axis": null},
                  "y2": {"field": "yb"}}},
    {"data": {"name": "RN"}, "mark": {"type": "rule", "color": "#000000", "strokeWidth": 2.5, "strokeCap": "square"},
     "encoding": {"x": {"field": "ha", "type": "quantitative", "axis": null}, "x2": {"field": "h"},
                  "y": {"field": "ya", "type": "quantitative", "axis": null}}},
    {"data": {"name": "RN"}, "mark": {"type": "rule", "color": "#000000", "strokeWidth": 2.5, "strokeCap": "square"},
     "encoding": {"x": {"field": "hb", "type": "quantitative", "axis": null}, "x2": {"field": "h"},
                  "y": {"field": "yb", "type": "quantitative", "axis": null}}},
    {"data": {"name": "RT"}, "mark": {"type": "text", "angle": 90, "align": "center", "baseline": "middle", "font": "Liberation Serif", "fontWeight": "bold", "fontSize": 48, "color": "#000000"},
     "encoding": {"x": {"datum": 147, "type": "quantitative"}, "y": {"field": "at", "type": "quantitative"}, "text": {"field": "t"}}}
  ]
},
{
  "width": 200, "height": 1963,
  "data": {"name": "Rc"},
  "transform": [{"lookup": "r", "from": {"data": {"name": "Rg"}, "key": "r", "fields": ["g"]}}],
  "mark": {"type": "rect", "stroke": "#9A9A9A", "strokeWidth": 1.5},
  "encoding": {
    "x": {"field": "c", "type": "nominal", "sort": ["X0.", "X30.", "X60.", "X90.", "R"], "scale": {"paddingInner": 0, "paddingOuter": 0},
          "axis": {"orient": "bottom", "labelAngle": 90, "labelFontSize": 37, "labelPadding": 6, "labelAlign": "left", "labelBaseline": "middle", "title": null}},
    "y": {"field": "g", "type": "nominal", "sort": {"field": "r", "op": "min", "order": "ascending"}, "scale": {"paddingInner": 0, "paddingOuter": 0},
          "axis": {"orient": "right", "labelFontSize": 26.5, "labelPadding": 8, "labelLimit": 3000, "title": null}},
    "color": {"field": "z", "type": "quantitative",
              "scale": {"type": "linear", "domain": [-1.71, -1.6, -1.25, -0.9, -0.6, -0.25, 0, 0.25, 0.45, 0.7, 0.9, 1.1, 1.35, 1.6, 1.71],
                        "range": ["#2A4EA3", "#2C4FA3", "#5060AA", "#7A7EBA", "#A8A8D4", "#DCDCEE", "#FFFFFF", "#F9DADA", "#F5C0C0", "#F2A0A0", "#EE8080", "#EA6060", "#E54444", "#DC2A22", "#DA2820"],
                        "interpolate": "rgb", "clamp": true},
              "legend": {"orient": "none", "legendX": 691, "legendY": 1, "title": null, "direction": "vertical", "gradientLength": 410, "gradientThickness": 27, "gradientStrokeWidth": 0,
                         "labelFontSize": 27, "labelFont": "Liberation Sans", "labelColor": "#000000", "labelOffset": 18, "padding": 0,
                         "values": [1.5, 1, 0.5, 0, -0.5, -1, -1.5], "format": "~g"}}
  }
}
]
}
